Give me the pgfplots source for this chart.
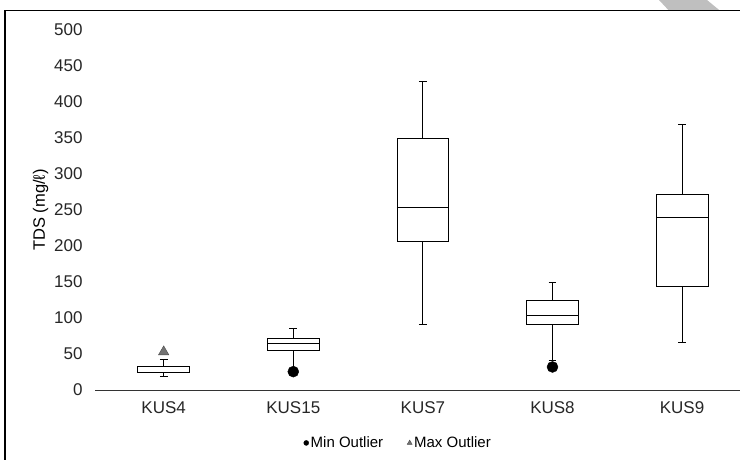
\documentclass[border=0pt]{standalone}
\usepackage{fontspec}
\setmainfont{Liberation Sans}
\usepackage{pgfplots}
\pgfplotsset{compat=1.18}
\usepgfplotslibrary{statistics}

\begin{document}
\begin{tikzpicture}[x=1pt,y=1pt]
\useasboundingbox (0,0) rectangle (740,459);
% page frame and the grey corner mark
\fill[black!25] (659,459) -- (707,459) -- (720,448.3) -- (669,448.3) -- cycle;
\draw[line width=1.1pt] (5,-10) -- (5,448.3) -- (760,448.3);

\begin{axis}[
  at={(95pt,69pt)}, anchor=south west,
  scale only axis, width=648pt, height=360pt,
  xmin=-0.53, xmax=4.47, ymin=0, ymax=500,
  axis x line*=bottom, axis y line*=left,
  y axis line style={draw=none},
  x axis line style={line width=0.8pt, black!80},
  ytick={0,50,...,500}, ytick style={draw=none},
  xtick={0,1,2,3,4}, xticklabels={KUS4,KUS15,KUS7,KUS8,KUS9},
  major x tick style={draw=none},
  extra x ticks={0.5,1.5,2.5,3.5}, extra x tick labels={},
  extra x tick style={tick style={draw=black!80, line width=0.8pt}, major tick length=5pt, tick align=outside},
  /pgf/number format/assume math mode=true,
  tick label style={font=\fontsize{17}{20}\selectfont, text=black!85},
  yticklabel style={xshift=-9pt},
  xticklabel style={yshift=-8pt},
  every axis y label/.style={at={(axis description cs:-0.084,0.5)}, rotate=90, anchor=center},
  ylabel={\fontsize{16.5}{19}\selectfont TDS (mg/ℓ)},
  boxplot/draw direction=y,
  boxplot/box extend=0.4,
  boxplot/whisker extend=0.06,
  legend style={at={(0.468,-0.147)}, anchor=center, draw=none, fill=none,
    legend columns=2, font=\fontsize{15}{17}\selectfont,
    /tikz/every even column/.append style={column sep=22pt}},
  legend cell align=left,
  clip=false,
]
% KUS4
\addplot[forget plot, black, line width=0.9pt, fill=white, boxplot prepared={draw position=0,
  lower whisker=18.5, lower quartile=25, median=25, upper quartile=33, upper whisker=42}]
  coordinates {};
% KUS15
\addplot[forget plot, black, line width=0.9pt, fill=white, boxplot prepared={draw position=1,
  lower whisker=30, lower quartile=55, median=65, upper quartile=72, upper whisker=85}]
  coordinates {};
% KUS7
\addplot[forget plot, black, line width=0.9pt, fill=white, boxplot prepared={draw position=2,
  lower whisker=91, lower quartile=207, median=254, upper quartile=349, upper whisker=428}]
  coordinates {};
% KUS8
\addplot[forget plot, black, line width=0.9pt, fill=white, boxplot prepared={draw position=3,
  lower whisker=41.5, lower quartile=91, median=104, upper quartile=124, upper whisker=149}]
  coordinates {};
% KUS9
\addplot[forget plot, black, line width=0.9pt, fill=white, boxplot prepared={draw position=4,
  lower whisker=65.5, lower quartile=143.5, median=240, upper quartile=272, upper whisker=369}]
  coordinates {};

% outliers
\addplot[forget plot, only marks, mark=*, mark size=5.5pt, black]
  coordinates {(1,25.5) (3,32)};
\addplot[forget plot, only marks, mark=triangle*, mark size=6pt, draw=black!70, fill=black!55]
  coordinates {(0,53)};

\addlegendimage{only marks, mark=*, mark size=2.5pt, black}
\addlegendentry{Min Outlier}
\addlegendimage{only marks, mark=triangle*, mark size=2.8pt, draw=black!70, fill=black!55}
\addlegendentry{Max Outlier}
\end{axis}
\end{tikzpicture}
\end{document}
